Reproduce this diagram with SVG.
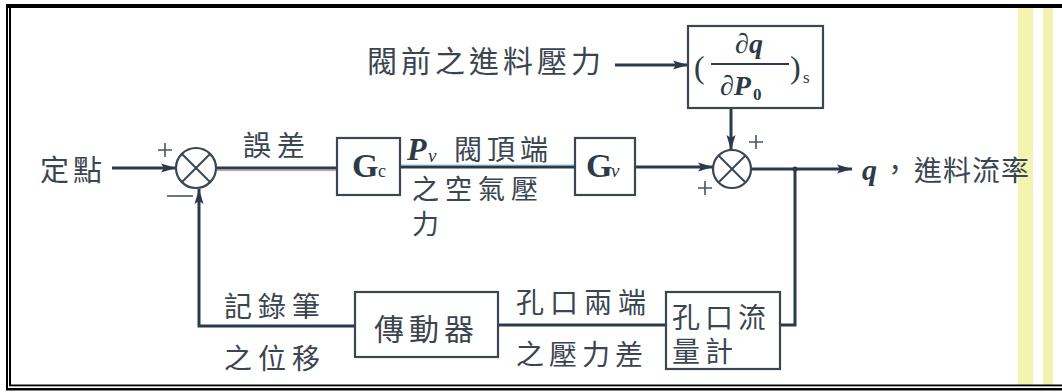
<svg xmlns="http://www.w3.org/2000/svg" width="1062" height="392" viewBox="0 0 1062 392">
<style>
.cjk{font-family:"Noto Sans CJK TC","Noto Sans CJK SC",sans-serif;fill:#3a4550;}
.mth{font-family:"Liberation Serif",serif;fill:#2e3a46;font-weight:bold;}
.mthn{font-family:"Liberation Serif",serif;fill:#2e3a46;font-weight:normal;}
.ln{stroke:#2b3a4a;stroke-width:3;fill:none;}
.box{stroke:#3a4652;stroke-width:2.2;fill:none;}
.sg{stroke:#4a5560;stroke-width:1.6;fill:none;}
</style>
<defs>
<marker id="ah" markerUnits="userSpaceOnUse" markerWidth="16" markerHeight="10" refX="15" refY="5" orient="auto">
<path d="M0,0.5 L15,5 L0,9.5 L3,5 z" fill="#2b3a4a"/>
</marker>
</defs>
<rect width="1062" height="392" fill="#ffffff"/>
<g id="frame">
<rect x="1018" y="8" width="15" height="377" fill="#f4f3b0"/>
<rect x="1043" y="8" width="10" height="377" fill="#f4f3b0"/>
<rect x="6" y="4" width="1056" height="4" fill="#000"/>
<rect x="6" y="4" width="2" height="386" fill="#000"/>
<rect x="9" y="8" width="2" height="378" fill="#000"/>
<rect x="9" y="384.5" width="1053" height="1.8" fill="#000"/>
<rect x="6" y="388" width="1056" height="2.5" fill="#000"/>
</g>
<g id="connectors">
<line class="ln" x1="112" y1="168" x2="176" y2="168" marker-end="url(#ah)"/>
<line class="ln" x1="217" y1="168" x2="337" y2="168"/>
<line x1="217" y1="170.5" x2="337" y2="170.5" stroke="#d05050" stroke-width="1" opacity="0.6"/>
<line class="ln" x1="400" y1="167" x2="575" y2="167"/>
<line x1="400" y1="165" x2="575" y2="165" stroke="#40b8b8" stroke-width="1" opacity="0.6"/>
<line class="ln" x1="635" y1="167" x2="713" y2="167" marker-end="url(#ah)"/>
<line class="ln" x1="615" y1="65" x2="688" y2="65" marker-end="url(#ah)"/>
<line class="ln" x1="731" y1="108" x2="731" y2="150" marker-end="url(#ah)"/>
<line class="ln" x1="751" y1="169" x2="852" y2="169" marker-end="url(#ah)"/>
<polyline class="ln" points="795,169 795,325 780,325"/>
<line class="ln" x1="666" y1="325" x2="498" y2="325"/>
<polyline class="ln" points="355,326 199,326 199,189" marker-end="url(#ah)"/>
<circle cx="795" cy="169" r="2.5" fill="#2b3a4a"/>
</g>
<g id="sum1">
<circle cx="196" cy="168" r="20" class="box" stroke-width="2.6"/>
<line x1="182" y1="154" x2="210" y2="182" stroke="#3a4652" stroke-width="2"/>
<line x1="210" y1="154" x2="182" y2="182" stroke="#3a4652" stroke-width="2"/>
<path class="sg" d="M158,150 H172 M165,143 V157"/>
<path class="sg" d="M167,196 H193"/>
</g>
<g id="sum2">
<circle cx="732" cy="169" r="19" class="box" stroke-width="2.6"/>
<line x1="719" y1="156" x2="745" y2="182" stroke="#3a4652" stroke-width="2"/>
<line x1="745" y1="156" x2="719" y2="182" stroke="#3a4652" stroke-width="2"/>
<path class="sg" d="M749,142 H763 M756,135 V149"/>
<path class="sg" d="M698,188 H712 M705,181 V195"/>
</g>
<g id="setpoint"><text class="cjk" x="40" y="181" font-size="29" letter-spacing="4">定點</text></g>
<g id="error-label"><text class="cjk" x="243" y="156" font-size="28" letter-spacing="6">誤差</text></g>
<g id="Gc">
<rect class="box" x="337" y="138" width="63" height="57"/>
<text class="mth" x="352" y="177" font-size="34">G</text>
<text class="mthn" x="378" y="177" font-size="18">c</text>
</g>
<g id="pv-label">
<text class="mth" x="407" y="160" font-size="32" font-style="italic">P</text>
<text class="mthn" x="428" y="162" font-size="19" font-style="italic">v</text>
<text class="cjk" x="454" y="160" font-size="28" letter-spacing="5">閥頂端</text>
<text class="cjk" x="412" y="199" font-size="27" letter-spacing="6">之空氣壓</text>
<text class="cjk" x="412" y="234" font-size="27">力</text>
</g>
<g id="Gv">
<rect class="box" x="575" y="138" width="60" height="57"/>
<text class="mth" x="586" y="177" font-size="34">G</text>
<text class="mthn" x="611" y="177" font-size="19" font-style="italic">v</text>
</g>
<g id="disturbance">
<text class="cjk" x="367" y="72" font-size="30" letter-spacing="4">閥前之進料壓力</text>
</g>
<g id="dqdp">
<rect class="box" x="688" y="26" width="135" height="82"/>
<text class="mthn" x="694" y="78" font-size="32">(</text>
<text class="mth" x="749" y="53" font-size="28" font-style="italic" text-anchor="middle">∂q</text>
<line x1="711" y1="64" x2="789" y2="64" stroke="#2e3a46" stroke-width="2"/>
<text class="mth" x="720" y="95" font-size="28" font-style="italic">∂P<tspan font-size="17" font-style="normal" dx="2" dy="5">0</tspan></text>
<text class="mthn" x="790" y="78" font-size="32">)</text>
<text class="mthn" x="803" y="83" font-size="17">s</text>
</g>
<g id="output">
<text class="mth" x="862" y="180" font-size="30" font-style="italic">q</text>
<text class="cjk" x="881" y="180" font-size="28">，</text>
<text class="cjk" x="914" y="181" font-size="28" letter-spacing="1">進料流率</text>
</g>
<g id="actuator">
<rect class="box" x="355" y="292" width="143" height="65"/>
<text class="cjk" x="374" y="340" font-size="30" letter-spacing="5">傳動器</text>
</g>
<g id="pen-label">
<text class="cjk" x="224" y="317" font-size="28" letter-spacing="6">記錄筆</text>
<text class="cjk" x="224" y="369" font-size="28" letter-spacing="6">之位移</text>
</g>
<g id="dp-label">
<text class="cjk" x="516" y="313" font-size="28" letter-spacing="6">孔口兩端</text>
<text class="cjk" x="516" y="365" font-size="28" letter-spacing="5">之壓力差</text>
</g>
<g id="flowmeter">
<rect class="box" x="666" y="292" width="114" height="77"/>
<text class="cjk" x="672" y="328" font-size="28" letter-spacing="5">孔口流</text>
<text class="cjk" x="672" y="362" font-size="28" letter-spacing="5">量計</text>
</g>
</svg>
